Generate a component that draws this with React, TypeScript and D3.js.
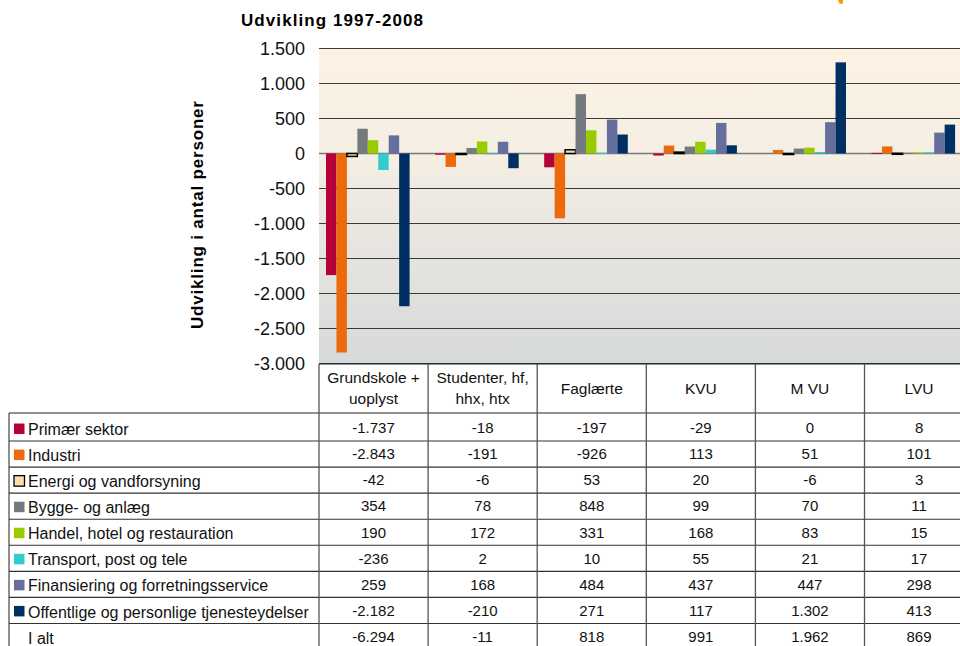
import React from "react";
import * as d3 from "d3";

const categories = ["Grundskole +\nuoplyst", "Studenter, hf,\nhhx, htx", "Faglærte", "KVU", "M VU", "LVU"];
const seriesNames = [
  "Primær sektor",
  "Industri",
  "Energi og vandforsyning",
  "Bygge- og anlæg",
  "Handel, hotel og restauration",
  "Transport, post og tele",
  "Finansiering og forretningsservice",
  "Offentlige og personlige tjenesteydelser",
];
const primaer = [-1737, -18, -197, -29, 0, 8];
const industri = [-2843, -191, -926, 113, 51, 101];
const energi = [-42, -6, 53, 20, -6, 3];
const bygge = [354, 78, 848, 99, 70, 11];
const handel = [190, 172, 331, 168, 83, 15];
const transport = [-236, 2, 10, 55, 21, 17];
const finans = [259, 168, 484, 437, 447, 298];
const offentlige = [-2182, -210, 271, 117, 1302, 413];
const iAlt = [-6294, -11, 818, 991, 1962, 869];
const seriesColors = ["#B5003A", "#EC6A0C", "#FBDDAE", "#737B7E", "#99CC00", "#33CCCC", "#666E9E", "#003063"];
const yTicks = [1500, 1000, 500, 0, -500, -1000, -1500, -2000, -2500, -3000];

const seriesValues = [primaer, industri, energi, bygge, handel, transport, finans, offentlige];

const FONT = "'Liberation Sans', Arial, sans-serif";
const fmt = (v: number) => {
  const s = Math.abs(v).toString();
  const withDots = s.length > 3 ? s.slice(0, s.length - 3) + "." + s.slice(s.length - 3) : s;
  return (v < 0 ? "-" : "") + withDots;
};

export default function App() {
  const W = 960, H = 646;
  const plotLeft = 319, colW = 109.1;
  const plotRight = plotLeft + colW * categories.length;
  const y = d3.scaleLinear().domain([-3000, 1500]).range([363.5, 48.5]);
  const x0 = d3.scaleBand<number>().domain(d3.range(categories.length)).range([plotLeft, plotRight]).padding(0);
  const x1 = d3.scaleBand<number>().domain(d3.range(seriesNames.length)).range([7, 7 + 83.6]).padding(0);

  const headerTop = 364, headerBottom = 413;
  const rowLabels = [...seriesNames, "I alt"];
  const rowValues = [...seriesValues, iAlt];
  const rows = d3.scaleBand<number>().domain(d3.range(rowLabels.length)).range([415, 649.5]).padding(0);
  const tableLeft = 9;

  return (
    <svg width={W} height={H} style={{ position: "absolute", left: 0, top: 0, background: "#fff" }} fontFamily={FONT}>
      <defs>
        <linearGradient id="bg" x1="0" y1="0" x2="0" y2="1">
          <stop offset="0" stopColor="#FDF3E3" />
          <stop offset="0.35" stopColor="#F4EEE3" />
          <stop offset="1" stopColor="#D6D9DB" />
        </linearGradient>
      </defs>
      {/* orange logo fragment */}
      <path d="M838,0 L843,0 L843,3 Q841,5 839,3 Z" fill="#F5A000" />
      {/* title */}
      <text x={241} y={26} fontSize={17} fontWeight="bold" textLength={182} lengthAdjust="spacing">Udvikling 1997-2008</text>
      {/* y axis title */}
      <text transform={`translate(203,215) rotate(-90)`} textAnchor="middle" fontSize={17} fontWeight="bold" textLength={228} lengthAdjust="spacing">Udvikling i antal personer</text>
      {/* plot background */}
      <rect x={plotLeft} y={y(1500)} width={plotRight - plotLeft} height={y(-3000) - y(1500)} fill="url(#bg)" />
      {/* gridlines */}
      {yTicks.map((t) => (
        <line key={t} x1={plotLeft} x2={plotRight} y1={y(t)} y2={y(t)} stroke={t === 0 ? "#7a7a7a" : "#3a3a3a"} strokeWidth={t === 0 ? 1.6 : 1} />
      ))}
      {/* y tick labels */}
      {yTicks.map((t) => (
        <text key={"l" + t} x={305} y={y(t)} dy="0.35em" textAnchor="end" fontSize={18} fill="#111">{fmt(t)}</text>
      ))}
      {/* bars */}
      {seriesValues.map((vals, si) =>
        vals.map((v, ci) => {
          if (v === 0) return null;
          const bx = (x0(ci) as number) + (x1(si) as number);
          const by = Math.min(y(v), y(0));
          const bh = Math.abs(y(v) - y(0));
          const outlined = si === 2;
          return (
            <rect key={si + "-" + ci} x={bx} y={by} width={x1.bandwidth()} height={Math.max(bh, 1)}
              fill={seriesColors[si]} stroke={outlined ? "#000" : "none"} strokeWidth={outlined ? 1.5 : 0} />
          );
        })
      )}
      {/* table header */}
      <rect x={plotLeft} y={headerTop} width={plotRight - plotLeft} height={headerBottom - headerTop} fill="#fff" />
      {categories.map((c, ci) => {
        const lines = c.split("\n");
        const cx = (x0(ci) as number) + colW / 2;
        const cy = (headerTop + headerBottom) / 2;
        return (
          <text key={"h" + ci} x={cx} textAnchor="middle" fontSize={15.5} fill="#111">
            {lines.map((ln, li) => (
              <tspan key={li} x={cx} y={cy + (li - (lines.length - 1) / 2) * 21} dy="0.35em">{ln}</tspan>
            ))}
          </text>
        );
      })}
      {/* table rows */}
      {rowLabels.map((lab, ri) => {
        const ry = (rows(ri) as number) + rows.bandwidth() / 2;
        return (
          <g key={"r" + ri}>
            {ri < seriesNames.length && (
              <rect x={14} y={ry - 4.5} width={10.5} height={10.5} fill={seriesColors[ri]} stroke={ri === 2 ? "#000" : "none"} strokeWidth={1.3} />
            )}
            <text x={28} y={ry + 1.5} dy="0.35em" fontSize={16} fill="#111">{lab}</text>
            {rowValues[ri].map((v, ci) => (
              <text key={ci} x={(x0(ci) as number) + colW / 2} y={ry} dy="0.35em" textAnchor="middle" fontSize={15} fill="#111">{fmt(v)}</text>
            ))}
          </g>
        );
      })}
      {/* table lines */}
      <line x1={plotLeft} x2={plotRight} y1={headerTop} y2={headerTop} stroke="#222" strokeWidth={1.2} />
      <line x1={tableLeft} x2={plotRight} y1={headerBottom} y2={headerBottom} stroke="#222" strokeWidth={1.2} />
      {d3.range(1, rowLabels.length).map((ri) => (
        <line key={"hl" + ri} x1={tableLeft} x2={plotRight} y1={rows(ri) as number} y2={rows(ri) as number} stroke="#333" strokeWidth={1.1} />
      ))}
      <line x1={tableLeft} x2={tableLeft} y1={headerBottom} y2={H} stroke="#333" strokeWidth={1.1} />
      {d3.range(0, categories.length + 1).map((k) => (
        <line key={"vl" + k} x1={plotLeft + k * colW} x2={plotLeft + k * colW} y1={headerTop} y2={H} stroke="#555" strokeWidth={1.3} />
      ))}
    </svg>
  );
}
